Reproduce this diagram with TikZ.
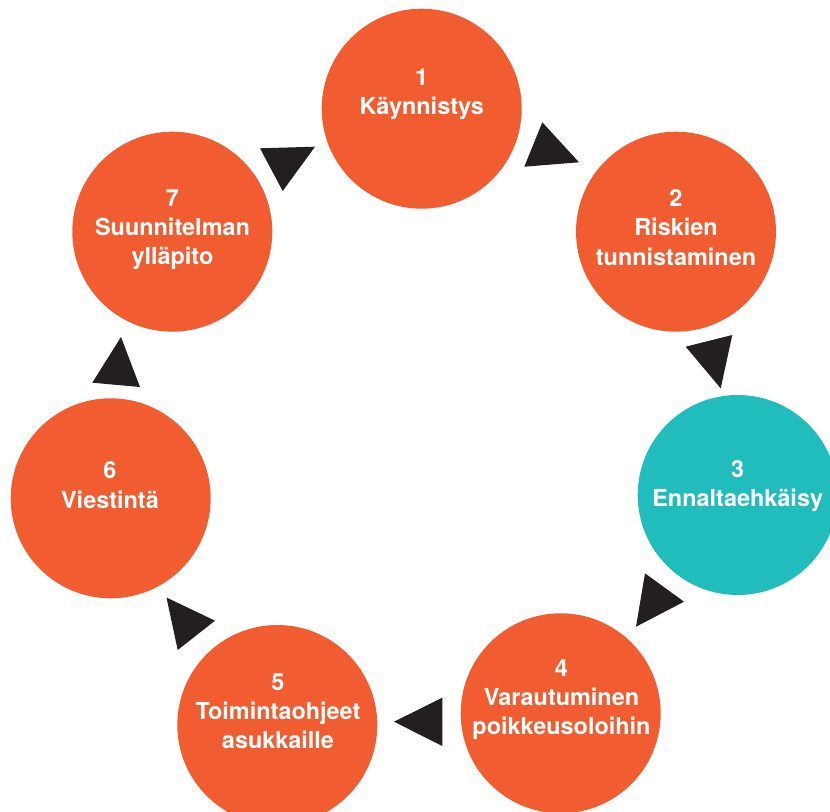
\documentclass[tikz,border=0pt]{standalone}
\usepackage{fontspec}
\setmainfont{TeX Gyre Heros}
\definecolor{orng}{RGB}{241,93,48}
\definecolor{tealc}{RGB}{33,189,188}
\definecolor{trik}{RGB}{35,31,32}
\begin{document}
\begin{tikzpicture}[x=0.03cm,y=-0.03cm,
  stepcirc/.style={circle, minimum size=6cm, inner sep=0pt, draw=none, fill=orng},
  lbl/.style={anchor=north, inner sep=0pt, align=center, text=white,
    font=\bfseries\fontsize{20}{25}\selectfont},
  arrowtri/.style={fill=trik}]
\useasboundingbox (0,0) rectangle (830,812);
\clip (0,0) rectangle (830,812);
% circles
\node[stepcirc] (c1) at (421.7,108.7) {};
\node[stepcirc] (c2) at (676,231.7) {};
\node[stepcirc, fill=tealc] (c3) at (737.7,495) {};
\node[stepcirc] (c4) at (560.7,713.3) {};
\node[stepcirc] (c5) at (277.3,725) {};
\node[stepcirc] (c6) at (110.7,498.3) {};
\node[stepcirc] (c7) at (172.3,231.7) {};
% labels
\node[lbl] (t1) at (421.7,68.3) {1\\Käynnistys};
\node[lbl] (t2) at (676,189.3) {2\\Riskien\\tunnistaminen};
\node[lbl] (t3) at (737.7,460) {3\\Ennaltaehkäisy};
\node[lbl] (t4) at (561.5,659.3) {4\\Varautuminen\\poikkeusoloihin};
\node[lbl] (t5) at (278,673.3) {5\\Toimintaohjeet\\asukkaille};
\node[lbl] (t6) at (110,461.7) {6\\Viestintä};
\node[lbl] (t7) at (172.5,189.3) {7\\Suunnitelman\\ylläpito};
% arrow triangles
\fill[arrowtri] (542.3,122.3) -- (524.3,166.7) -- (579,162.3) -- cycle;
\fill[arrowtri] (685.7,346.7) -- (732.3,335) -- (720.7,388.3) -- cycle;
\fill[arrowtri] (645,573.3) -- (684,601.7) -- (636,626.7) -- cycle;
\fill[arrowtri] (442.3,697.7) -- (442.3,746) -- (394,721.7) -- cycle;
\fill[arrowtri] (166.5,597.5) -- (177.7,650) -- (215,620.7) -- cycle;
\fill[arrowtri] (121,337) -- (140,387) -- (92.3,382.7) -- cycle;
\fill[arrowtri] (260,148.3) -- (315,146.7) -- (282.7,191) -- cycle;
\end{tikzpicture}
\end{document}
